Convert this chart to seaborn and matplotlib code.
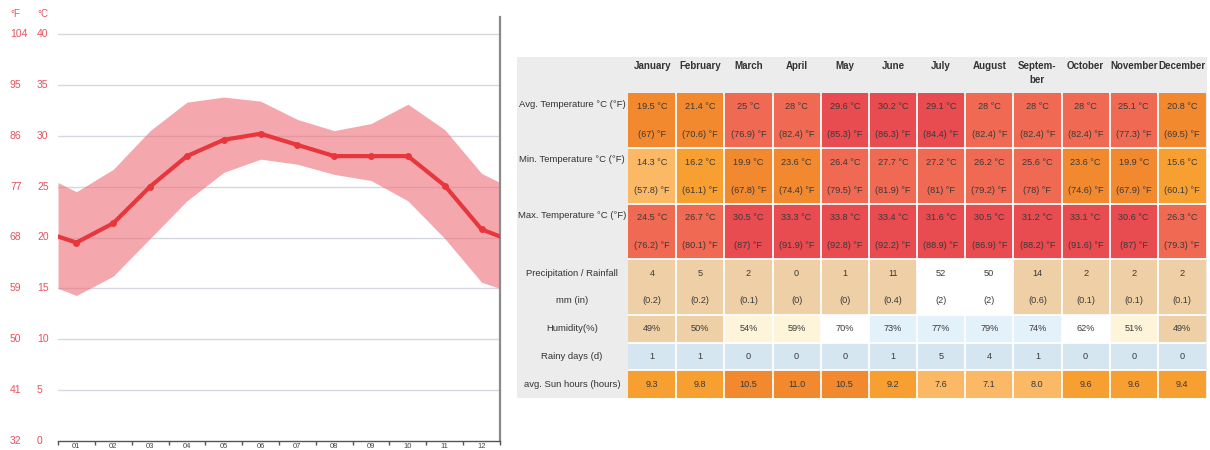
import numpy as np
import matplotlib
matplotlib.use("Agg")
import matplotlib.pyplot as plt
from matplotlib.colors import ListedColormap
from matplotlib.transforms import blended_transform_factory
import seaborn as sns

# ---------------- data ----------------
months = ["January", "February", "March", "April", "May", "June", "July",
          "August", "September", "October", "November", "December"]
month_ticks = ["01", "02", "03", "04", "05", "06", "07", "08", "09", "10", "11", "12"]
avg_c = [19.5, 21.4, 25, 28, 29.6, 30.2, 29.1, 28, 28, 28, 25.1, 20.8]
avg_f = [67, 70.6, 76.9, 82.4, 85.3, 86.3, 84.4, 82.4, 82.4, 82.4, 77.3, 69.5]
min_c = [14.3, 16.2, 19.9, 23.6, 26.4, 27.7, 27.2, 26.2, 25.6, 23.6, 19.9, 15.6]
min_f = [57.8, 61.1, 67.8, 74.4, 79.5, 81.9, 81, 79.2, 78, 74.6, 67.9, 60.1]
max_c = [24.5, 26.7, 30.5, 33.3, 33.8, 33.4, 31.6, 30.5, 31.2, 33.1, 30.6, 26.3]
max_f = [76.2, 80.1, 87, 91.9, 92.8, 92.2, 88.9, 86.9, 88.2, 91.6, 87, 79.3]
precip_mm = [4, 5, 2, 0, 1, 11, 52, 50, 14, 2, 2, 2]
precip_in = ["0.2", "0.2", "0.1", "0", "0", "0.4", "2", "2", "0.6", "0.1", "0.1", "0.1"]
humidity = [49, 50, 54, 59, 70, 73, 77, 79, 74, 62, 51, 49]
rainy_days = [1, 1, 0, 0, 0, 1, 5, 4, 1, 0, 0, 0]
sun_hours = [9.3, 9.8, 10.5, 11.0, 10.5, 9.2, 7.6, 7.1, 8.0, 9.6, 9.6, 9.4]
# values of the curves at the chart's left/right edges
edge_avg, edge_min, edge_max = 20.1, 15.0, 25.4
c_ticks = [0, 5, 10, 15, 20, 25, 30, 35, 40]
f_ticks = [32, 41, 50, 59, 68, 77, 86, 95, 104]
row_labels = ["Avg. Temperature °C (°F)", "Min. Temperature °C (°F)",
              "Max. Temperature °C (°F)", "Precipitation / Rainfall", "mm (in)",
              "Humidity(%)", "Rainy days (d)", "avg. Sun hours (hours)"]

# ---------------- style ----------------
sns.set_theme(style="white")
plt.rcParams["font.family"] = ["Liberation Sans", "DejaVu Sans"]

W, H = 1210, 450


def rect(x0, y0, x1, y1):
    return [x0 / W, 1 - y1 / H, (x1 - x0) / W, (y1 - y0) / H]


fig = plt.figure(figsize=(W / 100, H / 100), dpi=100)
fig.patch.set_facecolor("white")

# ---------------- left chart ----------------
red = "#e8373c"
lab_col = "#e8505e"
ax = fig.add_axes(rect(58, 17, 500, 441))
x_mid = np.arange(12) + 0.5
x_full = np.concatenate([[0], x_mid, [12]])
lo = [edge_min] + min_c + [edge_min]
hi = [edge_max] + max_c + [edge_max]
av = [edge_avg] + avg_c + [edge_avg]

for v in c_ticks[1:]:
    ax.axhline(v, color="#d5d9df", lw=1, zorder=1)
ax.fill_between(x_full, lo, hi, color="#ee6e78", alpha=0.6, lw=0, zorder=2)
sns.lineplot(x=x_full, y=av, ax=ax, color=red, lw=3, zorder=3,
             marker="o", markersize=5, markeredgewidth=0,
             markevery=list(range(1, 13)), sort=False)

ax.set_xlim(0, 12)
ax.set_ylim(0, 424 / (407 / 40))
ax.set_facecolor("white")
for s in ["top", "left"]:
    ax.spines[s].set_visible(False)
ax.spines["right"].set_color("#8a8a8a")
ax.spines["right"].set_linewidth(1.6)
ax.spines["bottom"].set_color("#555555")
ax.spines["bottom"].set_linewidth(1)
ax.set_xticks(range(13))
ax.set_xticklabels([])
ax.set_xticks(x_mid, minor=True)
ax.set_xticklabels(month_ticks, minor=True)
ax.tick_params(axis="x", which="major", length=3, width=1, color="#555555",
               direction="out", bottom=True)
ax.tick_params(axis="x", which="minor", length=0, pad=1.2, labelsize=5.5,
               labelcolor="#444444")
ax.set_yticks([])
ax.grid(False)

trans = blended_transform_factory(fig.transFigure, ax.transData)
for c, f in zip(c_ticks, f_ticks):
    ax.text(37 / W, c, str(c), transform=trans, ha="left", va="center",
            color=lab_col, fontsize=7.5)
    ax.text(10 / W, c, str(f), transform=trans, ha="left", va="center",
            color=lab_col, fontsize=7.5)
fig.text(10 / W, 1 - 14 / H, "°F", color=lab_col, fontsize=7, ha="left", va="center")
fig.text(37 / W, 1 - 14 / H, "°C", color=lab_col, fontsize=7, ha="left", va="center")

# ---------------- table ----------------
palette = ["#fbb965", "#f79f31", "#f2892f", "#ef6953", "#e84b50",
           "#efcfa6", "#ffffff", "#fdf4da", "#e3f1fa", "#d6e6f1"]


def temp_code(vals):
    return list(np.digitize(vals, [15, 19, 24, 29]))


codes = []
for vals in (avg_c, min_c, max_c):
    r = temp_code(vals)
    codes += [r, r]
pr = [5 if v < 20 else 6 for v in precip_mm]
codes += [pr, pr]
codes.append([[5, 7, 6, 8][k] for k in np.digitize(humidity, [50.5, 60, 72])])
codes.append([9] * 12)
codes.append(list(np.digitize(sun_hours, [9, 10])))
codes = np.array(codes)

bg = fig.add_axes(rect(517, 57, 1207, 398))
bg.set_facecolor("#ececec")
bg.set_xticks([])
bg.set_yticks([])
for s in bg.spines.values():
    s.set_visible(False)

hm = fig.add_axes(rect(628, 93, 1206, 398))
sns.heatmap(codes, cmap=ListedColormap(palette), vmin=-0.5,
            vmax=len(palette) - 0.5, cbar=False, ax=hm,
            xticklabels=False, yticklabels=False)
hm.vlines(np.arange(1, 12), 0, 11, color="white", lw=1.3)
hm.hlines([2, 4, 6, 8, 9, 10], 0, 12, color="white", lw=1.3)

tc = "#3a3a3a"
fs = 6.6
for j in range(12):
    x = j + 0.5
    cells = [
        f"{avg_c[j]:g} °C", f"({avg_f[j]:g}) °F",
        f"{min_c[j]:g} °C", f"({min_f[j]:g}) °F",
        f"{max_c[j]:g} °C", f"({max_f[j]:g}) °F",
        f"{precip_mm[j]}", f"({precip_in[j]})",
        f"{humidity[j]}%", f"{rainy_days[j]}", f"{sun_hours[j]:.1f}",
    ]
    for i, t in enumerate(cells):
        hm.text(x, i + 0.5, t, ha="center", va="center", fontsize=fs, color=tc)

ltrans = blended_transform_factory(fig.transFigure, hm.transData)
for lbl, yy in zip(row_labels, [0.4, 2.4, 4.4, 6.5, 7.5, 8.5, 9.5, 10.5]):
    hm.text(572 / W, yy, lbl, transform=ltrans, ha="center", va="center",
            fontsize=6.8, color="#333333")

col_w = (1206 - 628) / 12
for j, m in enumerate(months):
    cx = (628 + col_w * (j + 0.5)) / W
    if m == "September":
        fig.text(cx, 1 - 66 / H, "Septem-", ha="center", va="center",
                 fontsize=7, fontweight="bold", color="#333333")
        fig.text(cx, 1 - 80 / H, "ber", ha="center", va="center",
                 fontsize=7, fontweight="bold", color="#333333")
    else:
        fig.text(cx, 1 - 66 / H, m, ha="center", va="center",
                 fontsize=7, fontweight="bold", color="#333333")

fig.savefig("out.png", dpi=100, facecolor="white")
